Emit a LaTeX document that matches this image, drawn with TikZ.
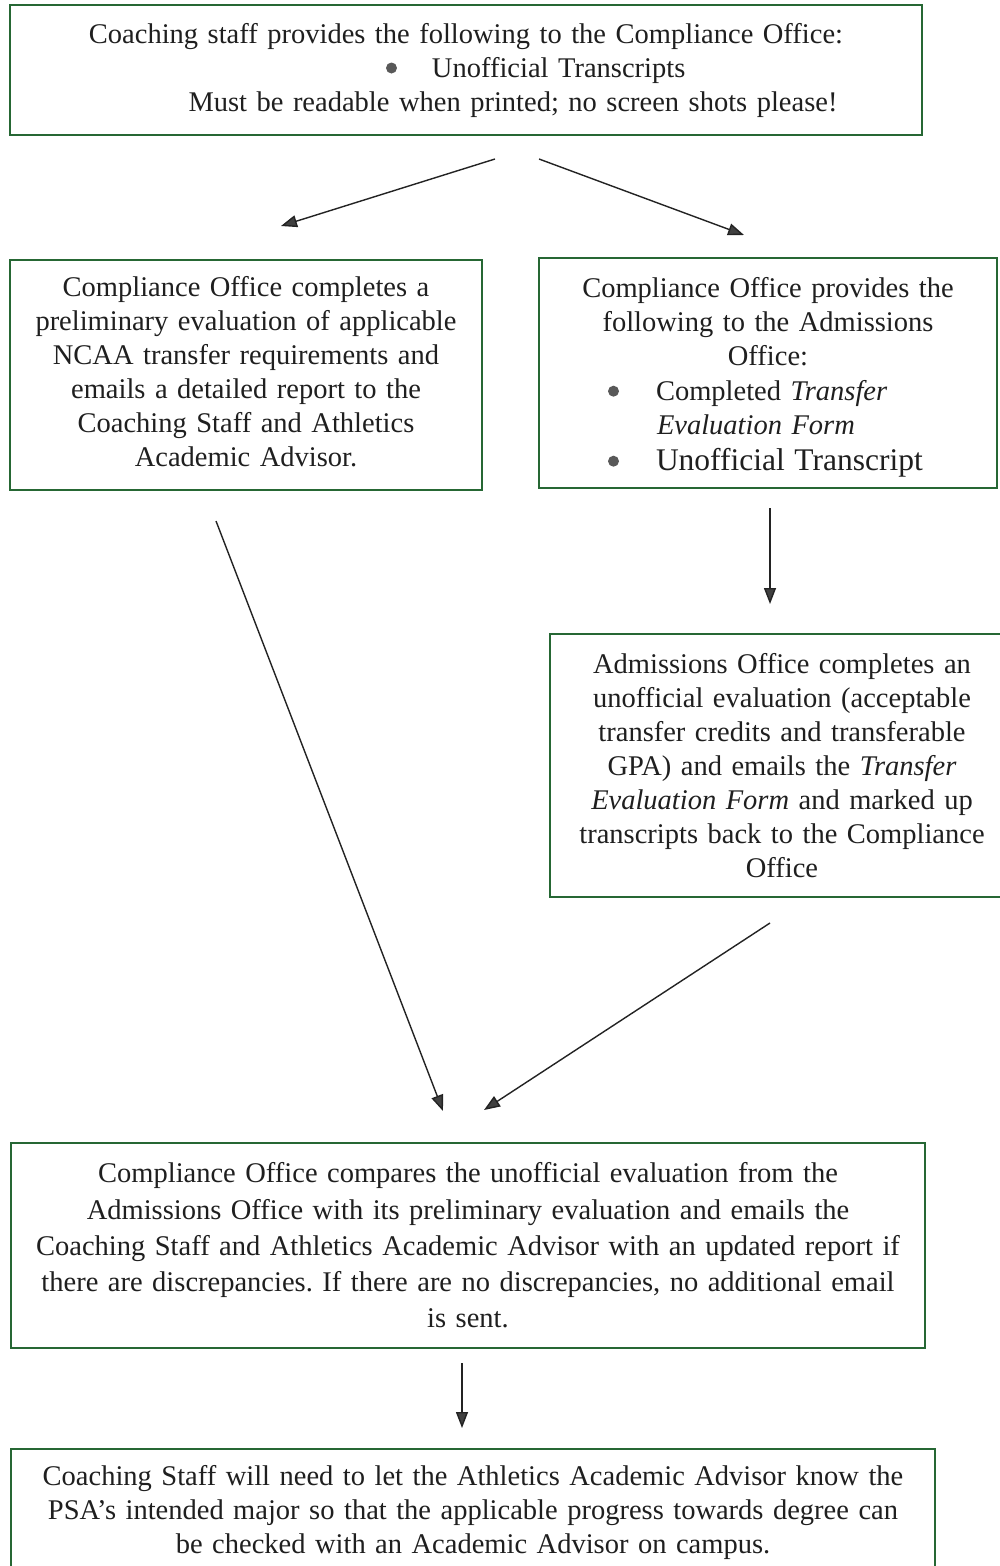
\documentclass[tikz,border=0pt]{standalone}
\usepackage{fontspec}
\setmainfont{Liberation Serif}
\usetikzlibrary{arrows.meta}
\definecolor{boxgreen}{RGB}{38,103,52}
\definecolor{arrowgray}{RGB}{35,35,35}
\newcommand{\bdot}{\raisebox{3.5pt}{\tikz\fill[black!65] (0,0) circle (5.5pt);}}
\newcommand{\bitem}[4]{\makebox[#1][l]{\hspace*{#2}\bdot\hspace*{#3}#4}}
\newcommand{\iitem}[3]{\makebox[#1][l]{\hspace*{#2}#3}}
\frenchspacing
\begin{document}
\begin{tikzpicture}[x=1pt,y=-1pt,
  box/.style={draw=boxgreen, line width=1.3pt, inner xsep=2pt, inner ysep=0pt,
    align=center, font=\fontsize{28.5}{34}\selectfont, text=black!88},
  arr/.style={draw=arrowgray, line width=1.4pt,
    -{Triangle[length=16pt,width=12pt,fill=black!75]}}
]
\useasboundingbox (0,0) rectangle (1000,1566);
\fill[white] (0,0) rectangle (1000,1566);

\node[box, minimum width=912pt, minimum height=130pt, text width=908pt] (b1) at (466,70)
  {Coaching staff provides the following to the Compliance Office:\\
   \bitem{908pt}{374pt}{35pt}{Unofficial Transcripts}\\
   \hspace*{94pt}Must be readable when printed; no screen shots please!};

\node[box, minimum width=472pt, minimum height=230pt, text width=468pt] (b2) at (246,375) {};
\node[box, draw=none, text width=468pt] (t2) at (246,372)
  {Compliance Office completes a\\
   preliminary evaluation of applicable\\
   NCAA transfer requirements and\\
   emails a detailed report to the\\
   Coaching Staff and Athletics\\
   Academic Advisor.};

\node[box, minimum width=458pt, minimum height=230pt, text width=454pt] (b3) at (768,373) {};
\node[box, draw=none, text width=454pt] (t3) at (768,377)
  {Compliance Office provides the\\
   following to the Admissions\\
   Office:\\[1pt]
   \bitem{454pt}{67pt}{37pt}{Completed \textit{Transfer}}\\
   \iitem{454pt}{116pt}{\textit{Evaluation Form}}\\[2pt]
   {\fontsize{31.5}{36}\selectfont\bitem{454pt}{67pt}{37pt}{Unofficial Transcript}}};

\node[box, minimum width=464pt, minimum height=263pt, text width=460pt] (b4) at (782,765.5)
  {Admissions Office completes an\\
   unofficial evaluation (acceptable\\
   transfer credits and transferable\\
   GPA) and emails the \textit{Transfer}\\
   \textit{Evaluation Form} and marked up\\
   transcripts back to the Compliance\\
   Office};

\node[box, minimum width=914pt, minimum height=205pt, text width=910pt,
      font=\fontsize{28.5}{36.3}\selectfont] (b5) at (468,1245.5)
  {Compliance Office compares the unofficial evaluation from the\\
   Admissions Office with its preliminary evaluation and emails the\\
   Coaching Staff and Athletics Academic Advisor with an updated report if\\
   there are discrepancies. If there are no discrepancies, no additional email\\
   is sent.};

\node[box, minimum width=924pt, minimum height=126pt, text width=920pt] (b6) at (473,1512)
  {Coaching Staff will need to let the Athletics Academic Advisor know the\\
   PSA’s intended major so that the applicable progress towards degree can\\
   be checked with an Academic Advisor on campus.};

\coordinate (a1s) at (495,159);  \coordinate (a1e) at (281,226);
\coordinate (a2s) at (539,159);  \coordinate (a2e) at (744,235);
\coordinate (a3s) at (770,508);  \coordinate (a3e) at (770,604);
\coordinate (a4s) at (216,521);  \coordinate (a4e) at (443,1111);
\coordinate (a5s) at (770,923);  \coordinate (a5e) at (484,1110);
\coordinate (a6s) at (462,1363); \coordinate (a6e) at (462,1428);

\draw[arr] (a1s) -- (a1e);
\draw[arr] (a2s) -- (a2e);
\draw[arr] (a3s) -- (a3e);
\draw[arr] (a4s) -- (a4e);
\draw[arr] (a5s) -- (a5e);
\draw[arr] (a6s) -- (a6e);
\end{tikzpicture}
\end{document}
